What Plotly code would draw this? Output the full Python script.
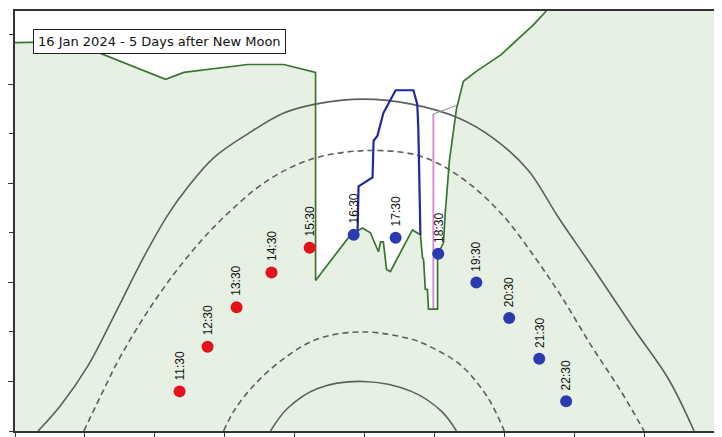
import plotly.graph_objects as go

# ---------------- data (azimuth deg, altitude deg) ----------------
times = ["11:30", "12:30", "13:30", "14:30", "15:30", "16:30",
         "17:30", "18:30", "19:30", "20:30", "21:30", "22:30"]
moon_az = [127.1, 135.1, 143.4, 153.4, 164.3, 176.9,
           188.9, 201.1, 212.0, 221.4, 230.0, 237.7]
moon_alt = [-1.0, 3.5, 7.5, 11.0, 13.5, 14.8,
            14.5, 12.9, 10.0, 6.4, 2.3, -2.0]
moon_vis = [True, True, True, True, True, False,
            False, False, False, False, False, False]

horizon_az = [80.0, 96.0, 123.1, 128.3, 146.6, 156.9, 166.0, 166.0, 176.0, 179.4,
              181.7, 184.0, 184.6, 185.4, 186.3, 187.4, 193.7, 195.1, 196.0, 196.6,
              196.9, 197.4, 198.0, 198.3, 200.9, 200.9, 202.6, 203.1, 204.3, 206.3,
              208.3, 212.0, 219.1, 228.6, 232.0]
horizon_alt = [34.2, 34.3, 30.5, 31.2, 32.0, 32.0, 31.2, 10.2, 14.8, 15.5,
               15.0, 13.1, 14.1, 14.1, 11.3, 11.1, 15.3, 15.0, 14.8, 12.5,
               12.3, 9.3, 9.3, 7.3, 7.3, 12.8, 14.0, 17.0, 22.3, 27.5,
               30.3, 31.3, 33.0, 36.1, 37.4]

building_az = [178.0, 178.3, 182.3, 182.6, 183.7, 185.4, 188.9, 194.0, 195.1, 195.4, 196.0]
building_alt = [15.0, 19.7, 20.6, 24.3, 24.8, 27.1, 29.4, 29.4, 28.0, 25.6, 14.8]

pole_az = [199.7, 199.7]
pole_alt = [7.3, 27.0]
wire_az = [199.7, 206.6]
wire_alt = [27.0, 27.9]

outer_solid_az = [86.6, 93.1, 100.9, 108.3, 116.9, 123.7, 129.4, 136.9, 146.6, 156.9, 166.0,
                  179.7, 193.4, 206.9, 217.1, 226.9, 235.4, 245.7, 257.1, 266.9, 274.3]
outer_solid_alt = [-5.0, -2.4, 1.6, 6.6, 12.6, 16.8, 19.6, 22.6, 25.0, 27.1, 28.0,
                   28.5, 28.0, 26.6, 24.5, 21.3, 16.6, 11.3, 5.3, 0.3, -5.0]

outer_dash_az = [99.7, 104.6, 110.3, 119.7, 129.4, 138.9, 152.3, 165.4, 179.7,
                 193.1, 201.1, 210.6, 220.0, 228.6, 236.3, 244.9, 253.4, 260.0]
outer_dash_alt = [-5.0, -1.4, 2.6, 8.0, 12.6, 16.3, 20.3, 22.5, 23.3,
                  23.0, 22.0, 19.8, 16.6, 12.6, 8.6, 3.6, -1.0, -5.0]

inner_dash_az = [139.7, 142.6, 148.3, 156.9, 166.6, 179.7, 193.1, 198.3, 207.7, 215.4, 220.0]
inner_dash_alt = [-5.0, -3.0, -0.4, 2.3, 4.3, 5.0, 4.3, 3.6, 1.6, -1.7, -5.0]

inner_solid_az = [153.1, 158.0, 166.6, 179.7, 193.4, 202.0, 206.3]
inner_solid_alt = [-5.0, -2.7, -0.7, 0.0, -1.0, -3.0, -5.0]

title_text = "16 Jan 2024 - 5 Days after New Moon"

AZ_MIN, AZ_MAX = 80, 280
ALT_MIN, ALT_MAX = -5, 37.4

# ---------------- figure ----------------
fig = go.Figure()

# ground fill below the horizon
fig.add_trace(go.Scatter(
    x=horizon_az + [AZ_MAX, AZ_MAX, AZ_MIN],
    y=horizon_alt + [ALT_MAX, ALT_MIN, ALT_MIN],
    fill="toself", fillcolor="#e6f1e3", mode="none", hoverinfo="skip"))

arc_col = "#5a615a"
fig.add_trace(go.Scatter(x=outer_solid_az, y=outer_solid_alt, mode="lines",
                         line=dict(color=arc_col, width=1.6), line_shape="spline"))
fig.add_trace(go.Scatter(x=outer_dash_az, y=outer_dash_alt, mode="lines",
                         line=dict(color=arc_col, width=1.6, dash="6px,4px"), line_shape="spline"))
fig.add_trace(go.Scatter(x=inner_dash_az, y=inner_dash_alt, mode="lines",
                         line=dict(color=arc_col, width=1.6, dash="6px,4px"), line_shape="spline"))
fig.add_trace(go.Scatter(x=inner_solid_az, y=inner_solid_alt, mode="lines",
                         line=dict(color=arc_col, width=1.6), line_shape="spline"))

# wire and pole
fig.add_trace(go.Scatter(x=wire_az, y=wire_alt, mode="lines",
                         line=dict(color="#8a8f8a", width=1)))
fig.add_trace(go.Scatter(x=pole_az, y=pole_alt, mode="lines",
                         line=dict(color="#d486d4", width=1.8)))

# horizon outline
fig.add_trace(go.Scatter(x=horizon_az, y=horizon_alt, mode="lines",
                         line=dict(color="#3a7530", width=1.7)))

# building outline
fig.add_trace(go.Scatter(x=building_az, y=building_alt, mode="lines",
                         line=dict(color="#2326a6", width=2.2)))

# moon positions
colors = ["#e3121b" if v else "#2a3bb0" for v in moon_vis]
fig.add_trace(go.Scatter(x=moon_az, y=moon_alt, mode="markers",
                         marker=dict(size=12, color=colors, line=dict(width=0))))

for t, a, h in zip(times, moon_az, moon_alt):
    fig.add_annotation(x=a, y=h, text=t, showarrow=False, textangle=-90,
                       xanchor="center", yanchor="bottom", yshift=9,
                       font=dict(family="Liberation Sans, Arial", size=12, color="#111"))

fig.add_annotation(xref="paper", yref="paper", x=0.0257, y=0.9575,
                   xanchor="left", yanchor="top", text=title_text, showarrow=False,
                   bgcolor="white", bordercolor="#222", borderwidth=1, borderpad=4,
                   font=dict(family="DejaVu Sans", size=13, color="#111"))

fig.update_layout(
    width=714, height=429,
    margin=dict(l=6, r=8, t=1, b=4),
    paper_bgcolor="white", plot_bgcolor="white",
    showlegend=False,
    xaxis=dict(range=[AZ_MIN, AZ_MAX], tick0=80, dtick=20, ticks="outside", ticklen=5,
               tickcolor="#333", showticklabels=False, showgrid=False, zeroline=False,
               showline=True, linecolor="#333", linewidth=1.5, mirror=True),
    yaxis=dict(range=[ALT_MIN, ALT_MAX], tick0=0, dtick=10, ticks="outside", ticklen=6,
               tickcolor="#333", showticklabels=False, showgrid=False, zeroline=False,
               showline=True, linecolor="#333", linewidth=1.5, mirror=True,
               minor=dict(tick0=5, dtick=10, ticks="outside", ticklen=4, tickcolor="#333")),
)

fig.write_html("out.html")
